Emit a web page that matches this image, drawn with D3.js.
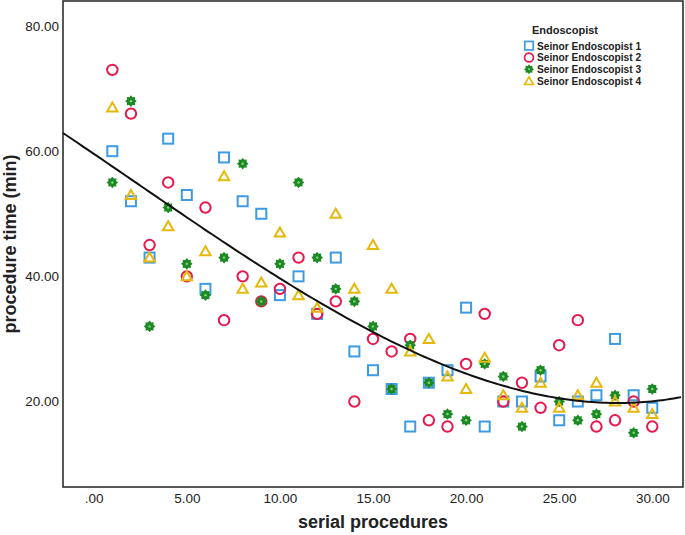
<!DOCTYPE html>
<html>
<head>
<meta charset="utf-8">
<script src="https://cdn.jsdelivr.net/npm/d3@7"></script>
<style>
  body { margin: 0; background: #fff; }
  svg { font-family: "Liberation Sans", Arial, sans-serif; }
</style>
</head>
<body>
<div id="chart"></div>
<script>
// data (procedure time in minutes per serial procedure)
const procedures = d3.range(1, 31);
const endo1 = [60,52,43,62,53,38,59,52,50,37,40,34,43,28,25,22,16,23,25,35,16,20,20,24,17,20,21,30,21,19];
const endo2 = [73,66,45,55,40,51,33,40,36,38,43,34,36,20,30,28,30,17,16,26,34,20,23,19,29,33,16,17,20,16];
const endo3 = [55,68,32,51,42,37,43,58,36,42,55,43,38,36,32,22,29,23,18,17,26,24,16,25,20,17,18,21,15,22];
const endo4 = [67,53,43,48,40,44,56,38,39,47,37,35,50,38,45,38,28,30,24,22,27,21,19,23,19,21,23,20,19,18];
const seriesNames = ["Seinor Endoscopist 1","Seinor Endoscopist 2","Seinor Endoscopist 3","Seinor Endoscopist 4"];
const seriesValues = [endo1, endo2, endo3, endo4];
const yTicks = [20, 40, 60, 80];
const xTicks = [0, 5, 10, 15, 20, 25, 30];

const width = 685, height = 535;
const plot = { left: 63, right: 683, top: 1, bottom: 487 };
const colors = ["#3d9be3", "#e8184c", "#1c8a22", "#e6b80c"];

const svg = d3.select("#chart").append("svg")
  .attr("width", width)
  .attr("height", height);

const x = d3.scaleLinear().domain([-1.65, 31.65]).range([plot.left, plot.right]);
const y = d3.scaleLinear().domain([6.34, 84]).range([plot.bottom, plot.top]);

// axes (labels only, no tick marks)
const yAxis = svg.append("g")
  .attr("transform", `translate(${plot.left},0)`)
  .call(d3.axisLeft(y).tickValues(yTicks).tickSize(0).tickPadding(4).tickFormat(d3.format(".2f")));
const xAxis = svg.append("g")
  .attr("transform", `translate(0,${plot.bottom})`)
  .call(d3.axisBottom(x).tickValues(xTicks).tickSize(0).tickPadding(6)
    .tickFormat(d => d === 0 ? ".00" : d3.format(".2f")(d)));
[yAxis, xAxis].forEach(g => {
  g.select(".domain").remove();
  g.selectAll("text").attr("font-size", 13.5).attr("fill", "#222")
    .attr("font-family", "Liberation Sans, Arial, sans-serif");
});

// frame
svg.append("rect")
  .attr("x", plot.left).attr("y", plot.top)
  .attr("width", plot.right - plot.left).attr("height", plot.bottom - plot.top)
  .attr("fill", "none").attr("stroke", "#222").attr("stroke-width", 1.5);

// axis titles
svg.append("text")
  .attr("x", (plot.left + plot.right) / 2).attr("y", 528)
  .attr("text-anchor", "middle").attr("font-weight", "bold").attr("font-size", 18)
  .attr("fill", "#222")
  .text("serial procedures");
svg.append("text")
  .attr("transform", "translate(16,244) rotate(-90)")
  .attr("text-anchor", "middle").attr("font-weight", "bold").attr("font-size", 18)
  .attr("fill", "#222")
  .text("procedure time (min)");

// marker shapes
const starPath = (ro, ri) => {
  const pts = [];
  for (let i = 0; i < 16; i++) {
    const a = Math.PI * i / 8 - Math.PI / 2;
    const r = i % 2 === 0 ? ro : ri;
    pts.push([r * Math.cos(a), r * Math.sin(a)]);
  }
  return "M" + pts.map(p => p.join(",")).join("L") + "Z";
};

function drawMarker(g, k) {
  if (k === 0) {
    g.append("rect").attr("x", -5).attr("y", -5).attr("width", 10).attr("height", 10)
      .attr("fill", "none").attr("stroke", colors[0]).attr("stroke-width", 2);
  } else if (k === 1) {
    g.append("circle").attr("r", 5.2)
      .attr("fill", "none").attr("stroke", colors[1]).attr("stroke-width", 2);
  } else if (k === 2) {
    g.append("path").attr("d", starPath(5.8, 4.2)).attr("fill", colors[2]);
    g.append("circle").attr("r", 1.2).attr("fill", "#8fd08f");
  } else {
    g.append("path").attr("d", "M0,-5L5.2,4L-5.2,4Z")
      .attr("fill", "none").attr("stroke", colors[3]).attr("stroke-width", 2)
      .attr("stroke-linejoin", "miter");
  }
}

// points
seriesValues.forEach((vals, k) => {
  const pts = svg.append("g").selectAll("g")
    .data(vals.map((v, i) => ({ x: procedures[i], y: v })))
    .join("g")
    .attr("transform", d => `translate(${x(d.x)},${y(d.y)})`);
  pts.each(function () { drawMarker(d3.select(this), k); });
});

// cubic least-squares fit on all points
const all = [];
seriesValues.forEach(vals => vals.forEach((v, i) => all.push([procedures[i], v])));
function polyFit(pts, deg) {
  const n = deg + 1;
  const A = d3.range(n).map(() => Array(n + 1).fill(0));
  pts.forEach(([px, py]) => {
    for (let i = 0; i < n; i++) {
      for (let j = 0; j < n; j++) A[i][j] += Math.pow(px, i + j);
      A[i][n] += py * Math.pow(px, i);
    }
  });
  for (let i = 0; i < n; i++) {
    for (let j = i + 1; j < n; j++) {
      const f = A[j][i] / A[i][i];
      for (let c = i; c <= n; c++) A[j][c] -= f * A[i][c];
    }
  }
  const b = Array(n).fill(0);
  for (let i = n - 1; i >= 0; i--) {
    let sum = A[i][n];
    for (let c = i + 1; c < n; c++) sum -= A[i][c] * b[c];
    b[i] = sum / A[i][i];
  }
  return b;
}
const coef = polyFit(all, 3);
const fitY = v => coef.reduce((s, c, i) => s + c * Math.pow(v, i), 0);
const fitX = d3.range(x.domain()[0], x.domain()[1] + 0.01, 0.2);
svg.append("path")
  .datum(fitX)
  .attr("fill", "none").attr("stroke", "#111").attr("stroke-width", 2)
  .attr("d", d3.line().x(d => x(d)).y(d => y(fitY(d))));

// legend
const legend = svg.append("g").attr("transform", "translate(529,0)");
legend.append("text").attr("x", 3).attr("y", 34)
  .attr("font-weight", "bold").attr("font-size", 11).attr("fill", "#222").text("Endoscopist");
seriesNames.forEach((name, k) => {
  const row = legend.append("g").attr("transform", `translate(0,${45.7 + k * 11.8})`);
  const m = row.append("g").attr("transform", "scale(0.85)");
  drawMarker(m, k);
  row.append("text").attr("x", 8).attr("y", 3.8)
    .attr("font-weight", "bold").attr("font-size", 10.2).attr("fill", "#222").text(name);
});
</script>
</body>
</html>
